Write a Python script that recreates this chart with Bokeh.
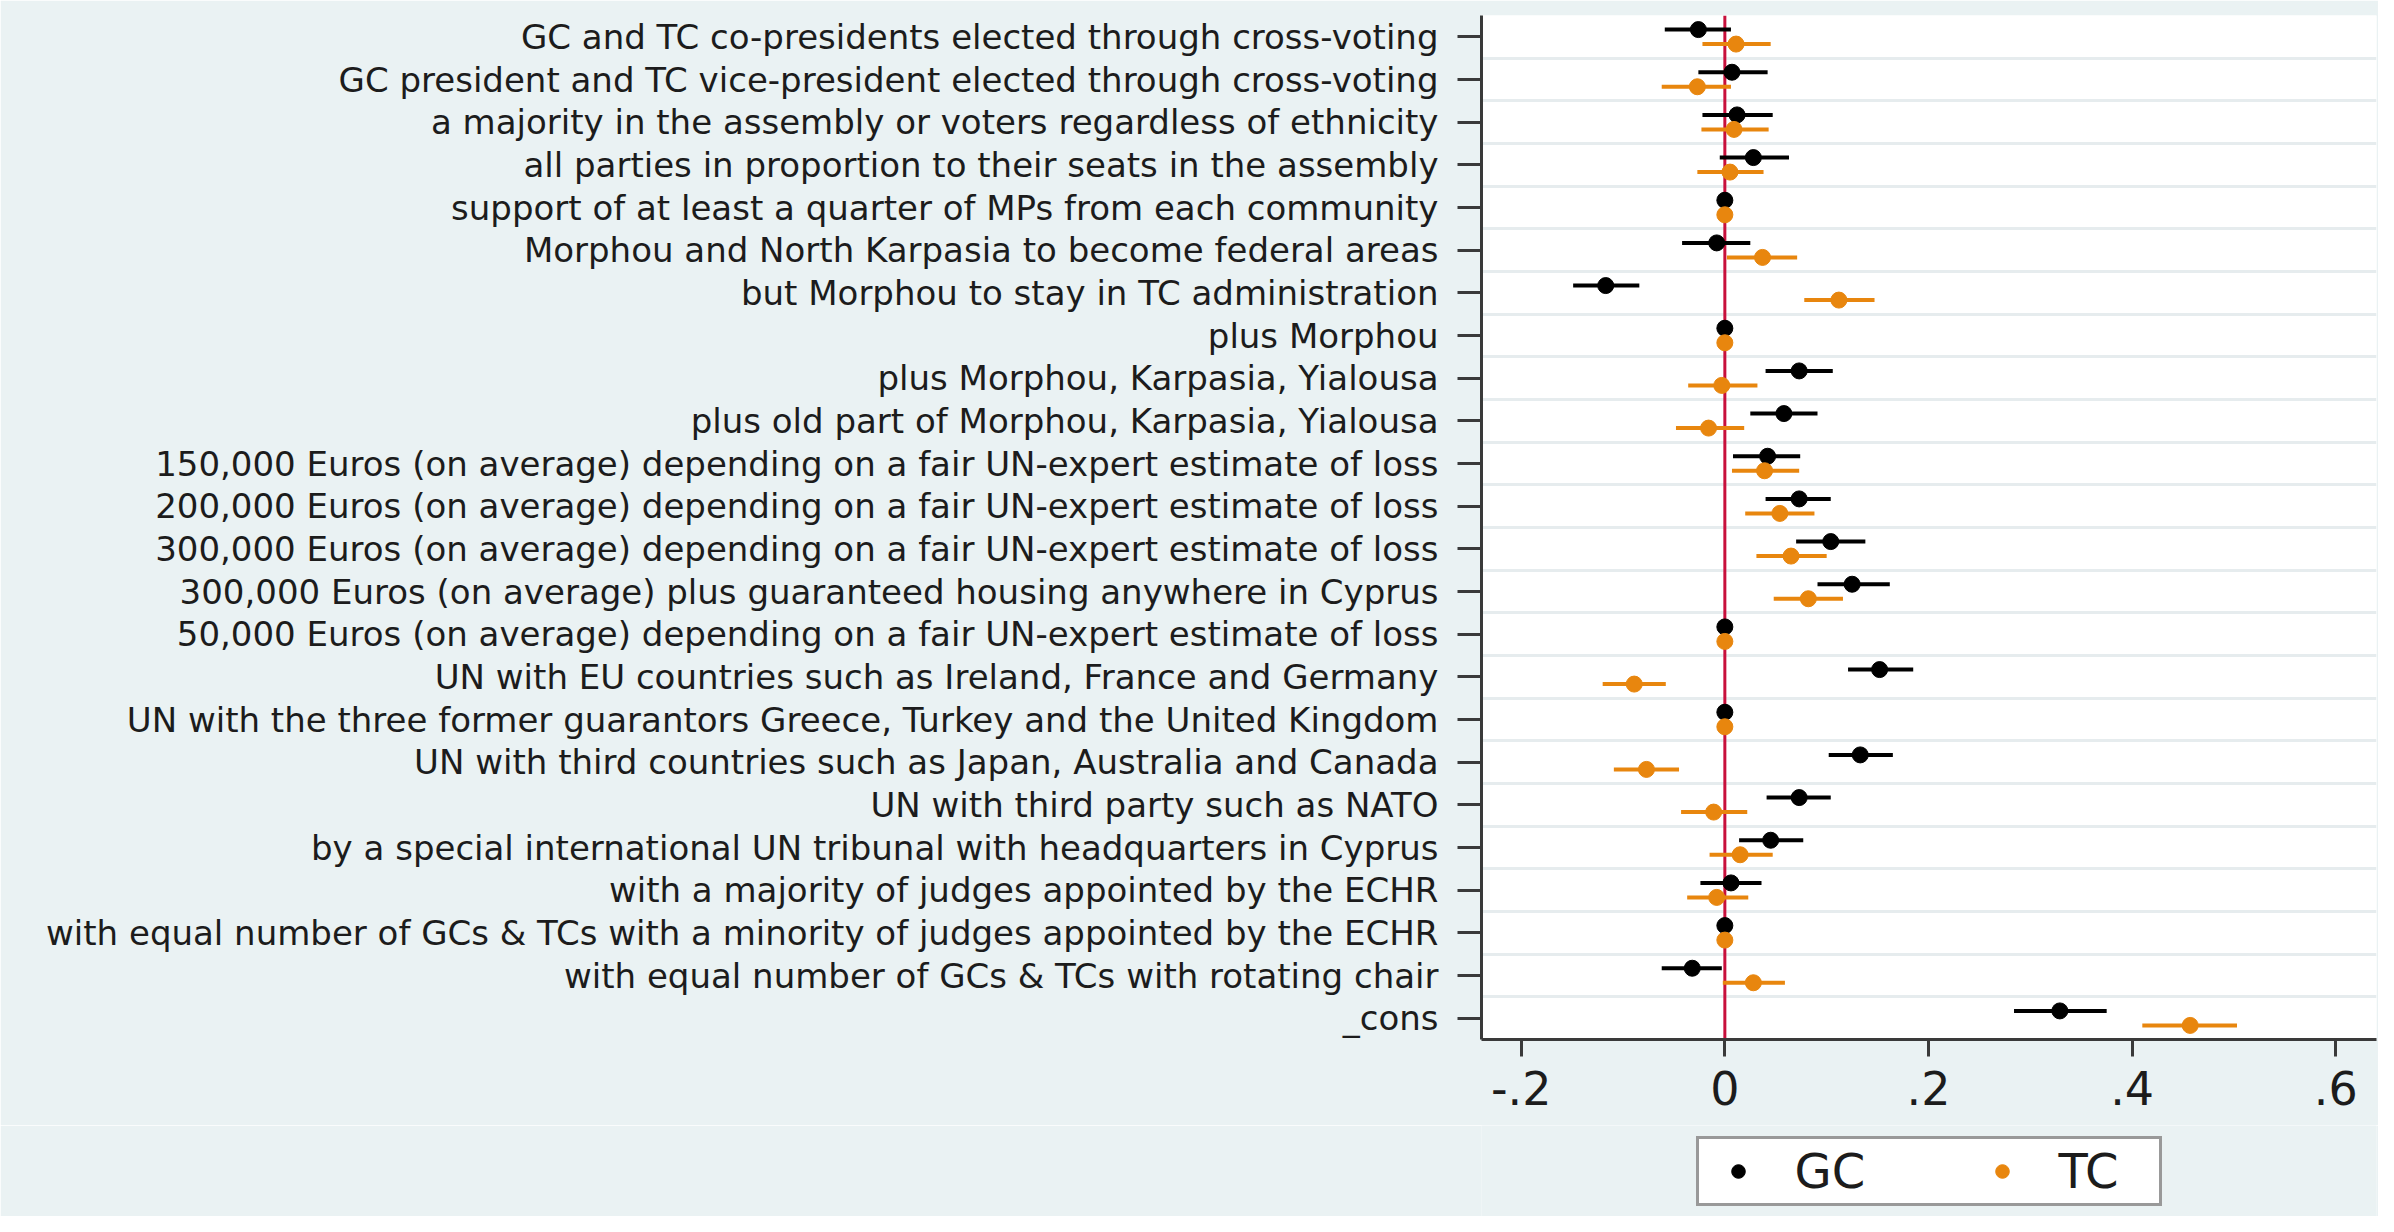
from bokeh.plotting import figure
from bokeh.layouts import column
from bokeh.models import (Range1d, FixedTicker, Span, Legend, LegendItem, ColumnDataSource)
from bokeh.embed import file_html
from bokeh.resources import INLINE

labels = [
    "GC and TC co-presidents elected through cross-voting",
    "GC president and TC vice-president elected through cross-voting",
    "a majority in the assembly or voters regardless of ethnicity",
    "all parties in proportion to their seats in the assembly",
    "support of at least a quarter of MPs from each community",
    "Morphou and North Karpasia to become federal areas",
    "but Morphou to stay in TC administration",
    "plus Morphou",
    "plus Morphou, Karpasia, Yialousa",
    "plus old part of Morphou, Karpasia, Yialousa",
    "150,000 Euros (on average) depending on a fair UN-expert estimate of loss",
    "200,000 Euros (on average) depending on a fair UN-expert estimate of loss",
    "300,000 Euros (on average) depending on a fair UN-expert estimate of loss",
    "300,000 Euros (on average) plus guaranteed housing anywhere in Cyprus",
    "50,000 Euros (on average) depending on a fair UN-expert estimate of loss",
    "UN with EU countries such as Ireland, France and Germany",
    "UN with the three former guarantors Greece, Turkey and the United Kingdom",
    "UN with third countries such as Japan, Australia and Canada",
    "UN with third party such as NATO",
    "by a special international UN tribunal with headquarters in Cyprus",
    "with a majority of judges appointed by the ECHR",
    "with equal number of GCs & TCs with a minority of judges appointed by the ECHR",
    "with equal number of GCs & TCs with rotating chair",
    "_cons",
]

gc_coef = [-0.026, 0.007, 0.012, 0.028, 0.0, -0.008, -0.117, 0.0, 0.073, 0.058,
           0.042, 0.073, 0.104, 0.125, 0.0, 0.152, 0.0, 0.133, 0.073, 0.045,
           0.006, 0.0, -0.032, 0.329]
gc_lo = [-0.059, -0.026, -0.022, -0.005, 0.0, -0.042, -0.149, 0.0, 0.040, 0.025,
         0.008, 0.040, 0.070, 0.091, 0.0, 0.121, 0.0, 0.102, 0.041, 0.014,
         -0.024, 0.0, -0.062, 0.284]
gc_hi = [0.006, 0.042, 0.047, 0.063, 0.0, 0.025, -0.084, 0.0, 0.106, 0.091,
         0.074, 0.104, 0.138, 0.162, 0.0, 0.185, 0.0, 0.165, 0.104, 0.077,
         0.036, 0.0, -0.003, 0.375]

tc_coef = [0.011, -0.027, 0.009, 0.005, 0.0, 0.037, 0.112, 0.0, -0.003, -0.016,
           0.039, 0.054, 0.065, 0.082, 0.0, -0.089, 0.0, -0.077, -0.011, 0.015,
           -0.008, 0.0, 0.028, 0.457]
tc_lo = [-0.022, -0.062, -0.023, -0.027, 0.0, 0.002, 0.078, 0.0, -0.036, -0.048,
         0.007, 0.020, 0.031, 0.048, 0.0, -0.120, 0.0, -0.109, -0.043, -0.015,
         -0.037, 0.0, -0.002, 0.410]
tc_hi = [0.045, 0.006, 0.043, 0.038, 0.0, 0.071, 0.147, 0.0, 0.032, 0.019,
         0.073, 0.088, 0.100, 0.116, 0.0, -0.058, 0.0, -0.045, 0.022, 0.047,
         0.023, 0.0, 0.059, 0.503]

x_ticks = [-0.2, 0.0, 0.2, 0.4, 0.6]
x_tick_labels = ["-.2", "0", ".2", ".4", ".6"]
series_names = ["GC", "TC"]

BG = "#eaf2f3"
FONT = "DejaVu Sans"
GC_COLOR = "#000000"
TC_COLOR = "#e8860e"
TXT = "#1c1c1c"
AXC = "#3a3a3a"

rows = list(range(1, len(labels) + 1))
off = 0.17
XR = (-0.239, 0.640)

p = figure(width=2378, height=1125, output_backend="svg", toolbar_location=None,
           x_range=Range1d(*XR), y_range=Range1d(len(labels) + 0.5, 0.5),
           min_border_left=1481, min_border_right=2, min_border_top=15,
           min_border_bottom=86)
p.background_fill_color = "white"
p.border_fill_color = BG
p.outline_line_color = None

# grid between rows
p.xgrid.visible = False
p.ygrid.ticker = FixedTicker(ticks=[r + 0.5 for r in rows[:-1]])
p.ygrid.grid_line_color = "#e6ecee"
p.ygrid.grid_line_width = 3

zero = Span(location=0, dimension="height", line_color="#c8103c", line_width=3)
zero.level = "underlay"
p.add_layout(zero)

gc_src = ColumnDataSource(dict(y=[r - off for r in rows], c=gc_coef, lo=gc_lo, hi=gc_hi))
tc_src = ColumnDataSource(dict(y=[r + off for r in rows], c=tc_coef, lo=tc_lo, hi=tc_hi))

p.segment(x0="lo", y0="y", x1="hi", y1="y", source=gc_src, line_color=GC_COLOR, line_width=4)
p.scatter(x="c", y="y", source=gc_src, size=16, marker="circle",
          fill_color=GC_COLOR, line_color=GC_COLOR)
p.segment(x0="lo", y0="y", x1="hi", y1="y", source=tc_src, line_color=TC_COLOR, line_width=4)
p.scatter(x="c", y="y", source=tc_src, size=16, marker="circle",
          fill_color=TC_COLOR, line_color=TC_COLOR)

# axes
ax = p.xaxis[0]
ax.ticker = FixedTicker(ticks=x_ticks)
ax.major_label_overrides = {t: l for t, l in zip(x_ticks, x_tick_labels)}
ax.major_label_text_font = FONT
ax.major_label_text_font_size = "46px"
ax.major_label_text_color = TXT
ax.major_tick_out = 17
ax.major_tick_in = 0
ax.minor_tick_line_color = None
ax.major_label_standoff = 14
ax.axis_line_width = 3
ax.axis_line_color = AXC
ax.major_tick_line_width = 3
ax.major_tick_line_color = AXC

ay = p.yaxis[0]
ay.ticker = FixedTicker(ticks=rows)
ay.major_label_overrides = {r: l for r, l in zip(rows, labels)}
ay.major_label_text_font = FONT
ay.major_label_text_font_size = "34px"
ay.major_label_text_color = TXT
ay.major_tick_out = 24
ay.major_tick_in = 0
ay.minor_tick_line_color = None
ay.major_label_standoff = 19
ay.axis_line_width = 3
ay.axis_line_color = AXC
ay.major_tick_line_width = 3
ay.major_tick_line_color = AXC

# legend strip below the plot, its frame aligned with the plot frame;
# the key glyphs share the series sources, with a y range that keeps them out of view
lf = figure(width=2378, height=91, output_backend="svg", toolbar_location=None,
            x_range=Range1d(*XR), y_range=Range1d(-20, -19),
            x_axis_location=None, y_axis_location=None,
            min_border_left=1481, min_border_right=2, min_border_top=0,
            min_border_bottom=0)
lf.background_fill_color = BG
lf.border_fill_color = BG
lf.outline_line_color = None
lf.grid.visible = False
gc_leg = lf.scatter(x="c", y="y", source=gc_src, size=15,
                    marker="circle", fill_color=GC_COLOR, line_color=GC_COLOR)
tc_leg = lf.scatter(x="c", y="y", source=tc_src, size=15,
                    marker="circle", fill_color=TC_COLOR, line_color=TC_COLOR)

legend = Legend(items=[LegendItem(label=series_names[0], renderers=[gc_leg], index=0),
                       LegendItem(label=series_names[1], renderers=[tc_leg], index=0)],
                orientation="horizontal", location="center")
legend.border_line_color = "#333333"
legend.border_line_width = 3
legend.background_fill_color = "white"
legend.background_fill_alpha = 1.0
legend.padding = 4
legend.spacing = 76
legend.glyph_width = 70
legend.glyph_height = 34
legend.label_standoff = 22
legend.label_width = 96
legend.label_text_font = FONT
legend.label_text_font_size = "48px"
legend.label_text_color = TXT
legend.margin = 0
lf.add_layout(legend, "center")

layout = column(p, lf, spacing=0)
open("out.html", "w").write(file_html(layout, INLINE))
